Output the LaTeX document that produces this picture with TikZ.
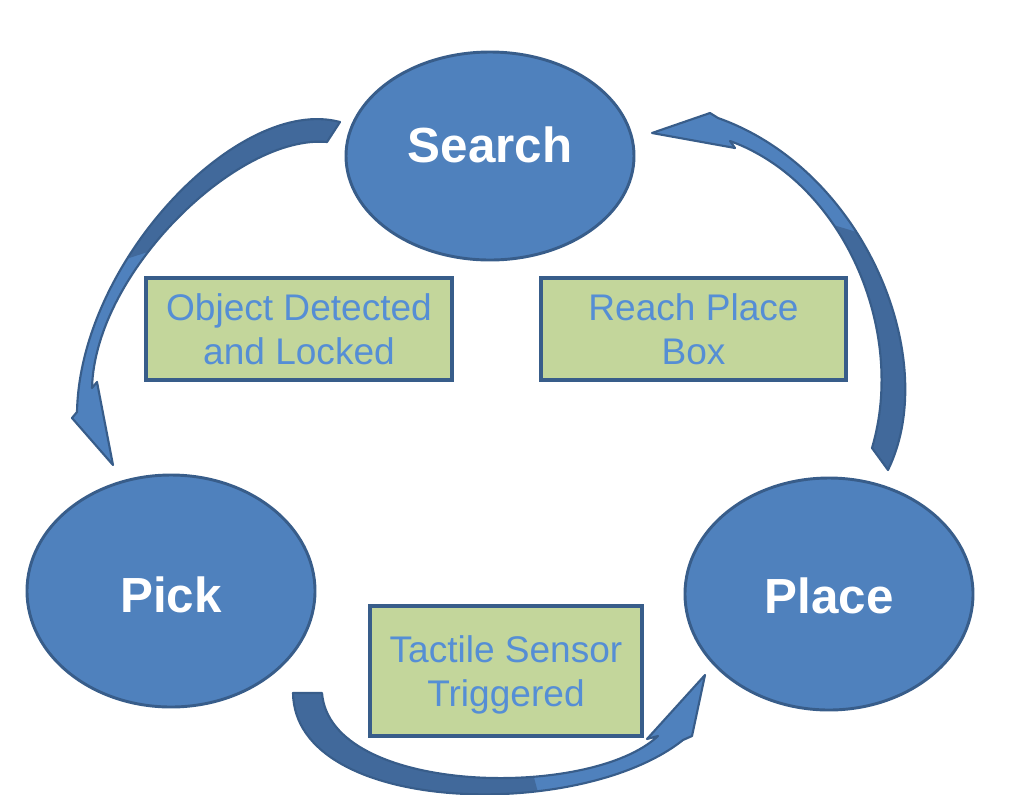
\documentclass[tikz,border=0pt]{standalone}
\usepackage{fontspec}
\setmainfont{Liberation Sans}
\usetikzlibrary{shapes.geometric}
\definecolor{nodeblue}{HTML}{4F81BD}
\definecolor{edgeblue}{HTML}{385D8A}
\definecolor{banddark}{HTML}{41699B}
\definecolor{boxgreen}{HTML}{C3D69B}
\definecolor{textblue}{HTML}{558ED5}
\newcommand\bandSearchPick{(340,122) .. controls (240,95) and (80,260) .. (77,412) -- (72,418) -- (113,465) -- (97,382) -- (92,388) .. controls (95,272) and (238,134) .. (327,142) -- cycle}
\newcommand\bandPickPlace{(293,693) .. controls (295,815) and (580,822) .. (683,740) -- (692,736) -- (705,675) -- (647,739) -- (658,736) .. controls (590,800) and (330,795) .. (322,693) -- cycle}
\newcommand\bandPlaceSearch{(888,470) .. controls (942,360) and (865,170) .. (718,118) -- (710,113) -- (652,133) -- (735,148) -- (730,141) .. controls (843,182) and (907,330) .. (872,448) -- cycle}

\begin{document}
\begin{tikzpicture}[x=0.75pt,y=-0.75pt,
	state/.style={ellipse,draw=edgeblue,fill=nodeblue,line width=2.2pt,minimum width=216pt,minimum height=174pt,inner sep=0pt,outer sep=0pt},
	statelabel/.style={text=white,font=\fontsize{37}{40}\selectfont\bfseries,anchor=base,inner sep=0pt},
	event/.style={rectangle,draw=edgeblue,fill=boxgreen,line width=2.8pt,text=textblue,font=\fontsize{27.8}{33}\selectfont,align=center,minimum height=76.5pt,inner sep=0pt,text depth=0pt},
	band/.style={draw=edgeblue,line width=1.6pt,line join=round}]
	\useasboundingbox (0,0) rectangle (1014,794);

	\node[state,minimum height=156pt] (search) at (490,156) {};
	\node[state] (pick) at (171,591) {};
	\node[state] (place) at (829,594) {};
	\node[statelabel] (searchlbl) at (490,162) {Search};
	\node[statelabel] (picklbl) at (171,612) {Pick};
	\node[statelabel] (placelbl) at (829,613) {Place};

	\node[event,minimum width=229.5pt] (detected) at (299,329) {Object Detected\\and Locked};
	\node[event,minimum width=229pt] (reach) at (693.5,329) {Reach Place\\Box};
	\node[event,minimum width=204pt,minimum height=97.5pt] (tactile) at (506,671) {Tactile Sensor\\Triggered};

	\fill[nodeblue] \bandSearchPick;
	\begin{scope}
		\clip \bandSearchPick;
		\fill[banddark] (0,0) -- (400,0) -- (400,170) -- (0,300) -- cycle;
	\end{scope}
	\draw[band] \bandSearchPick;

	\fill[nodeblue] \bandPickPlace;
	\begin{scope}
		\clip \bandPickPlace;
		\fill[banddark] (250,650) -- (500,650) -- (540,800) -- (250,800) -- cycle;
	\end{scope}
	\draw[band] \bandPickPlace;

	\fill[nodeblue] \bandPlaceSearch;
	\begin{scope}
		\clip \bandPlaceSearch;
		\fill[banddark] (750,200) -- (950,260) -- (950,480) -- (750,480) -- cycle;
	\end{scope}
	\draw[band] \bandPlaceSearch;
\end{tikzpicture}
\end{document}
